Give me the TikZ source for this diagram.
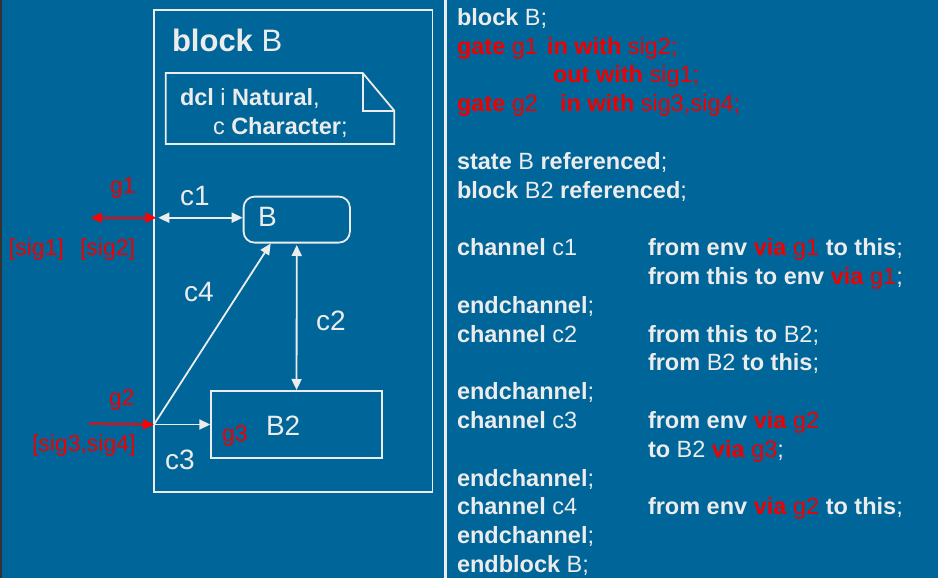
\documentclass[tikz,border=0pt]{standalone}
\usepackage{fontspec}
\setmainfont{Liberation Sans}
\usetikzlibrary{arrows.meta}
\definecolor{bg}{RGB}{0,102,153}
\definecolor{fg}{RGB}{236,236,236}
\definecolor{rd}{RGB}{238,0,0}
\definecolor{ar}{RGB}{255,0,0}
\newcommand{\fsz}[1]{\fontsize{#1}{#1}\selectfont}
\newcommand{\rr}[1]{\textcolor{rd}{#1}}
\newcommand{\kw}[1]{\textbf{#1}}
\begin{document}
\begin{tikzpicture}[x=1pt,y=-1pt,
  >={Triangle[length=11pt,width=10pt]},
  txt/.style={anchor=base west, inner sep=0pt, outer sep=0pt, text=fg, font=\fsz{23.5}},
  biglbl/.style={txt, font=\fsz{28}},
  redlbl/.style={txt, text=rd, font=\fsz{23}},
  wline/.style={draw=fg, line width=1.8pt},
  wbox/.style={wline, inner sep=0pt, anchor=north west},
  warr/.style={fg, line width=1.8pt},
  rarr/.style={ar, line width=2pt}]
\useasboundingbox (0,0) rectangle (938,578);
\fill[bg] (0,0) rectangle (938,578);
\fill[black!80] (0,0) rectangle (2,578);
\draw[fg, line width=2.5pt] (445.5,0) -- (445.5,578);

% block frame
\node[wbox, minimum width=278.2pt, minimum height=481.7pt] (blk) at (153.3,9.3) {};
\node[txt, font=\fsz{31}] (title) at (172,52) {\kw{block} B};

% note
\draw[wline, line join=miter] (165.7,73) -- (362.7,73) -- (394.3,110.7) -- (394.3,144) -- (165.7,144) -- cycle;
\draw[wline] (362.7,73) -- (362.7,110.7) -- (394.3,110.7);
\node[txt] (n1) at (180,105.7) {\kw{dcl} i \kw{Natural},};
\node[txt] (n2) at (213,134) {c \kw{Character};};

% boxes
\node[wbox, rounded corners=11pt, minimum width=106.3pt, minimum height=46pt] (Bst) at (242.7,195.7) {};
\node[wbox, minimum width=170.7pt, minimum height=67pt] (B2) at (210.3,390) {};
\node[biglbl] (Bt) at (258,226.7) {B};
\node[biglbl] (B2t) at (266,435.7) {B2};

% gate points
\coordinate (g1) at (153.3,217.7);
\coordinate (g1o) at (90.7,217.7);
\coordinate (g2) at (154,424.5);
\coordinate (g2o) at (89,423.5);

% connectors
\draw[rarr, <->] (g1o) -- ([xshift=3pt]g1);
\draw[warr, <->] ([xshift=5pt]g1) -- (Bst.west |- g1);
\draw[rarr, ->] (g2o) -- (g2);
\draw[warr, ->] (g2) -- (B2.west |- g2);
\draw[warr, ->] (g2) -- ([xshift=28pt]Bst.south west);
\draw[warr, <->, shorten <=1.5pt] (Bst.south) -- (B2.north);

% labels
\node[biglbl] (c1) at (180,205) {c1};
\node[biglbl] (c4) at (184,301) {c4};
\node[biglbl] (c2) at (316,330.7) {c2};
\node[biglbl] (c3) at (165,469.3) {c3};
\node[redlbl] (g1l) at (110,193) {g1};
\node[redlbl] (s1) at (9,255) {[sig1]};
\node[redlbl] (s2) at (80,255) {[sig2]};
\node[redlbl] (g2l) at (109,405) {g2};
\node[redlbl] (s34) at (32,451.7) {[sig3,sig4]};
\node[redlbl] (g3l) at (222,441.7) {g3};

% code listing
\node[txt] (l0) at (457,25.3) {\kw{block} B;};
\node[txt, text=rd] (l1a) at (457,54.1) {\kw{gate} g1};
\node[txt, text=rd] (l1b) at (547,54.1) {\kw{in with} sig2;};
\node[txt, text=rd] (l2) at (553,82.9) {\kw{out with} sig1;};
\node[txt, text=rd] (l3a) at (457,111.7) {\kw{gate} g2};
\node[txt, text=rd] (l3b) at (560,111.7) {\kw{in with} sig3,sig4;};
\node[txt] (l5) at (457,169.3) {\kw{state} B \kw{referenced};};
\node[txt] (l6) at (457,198.1) {\kw{block} B2 \kw{referenced};};
\node[txt] (l8) at (457,255.7) {\kw{channel} c1};
\node[txt] (l8b) at (648,255.7) {\kw{from env} \rr{\kw{via} g1} \kw{to this};};
\node[txt] (l9b) at (648,284.5) {\kw{from this to env} \rr{\kw{via} g1};};
\node[txt] (l10) at (457,313.3) {\kw{endchannel};};
\node[txt] (l11) at (457,342.1) {\kw{channel} c2};
\node[txt] (l11b) at (648,342.1) {\kw{from this to} B2;};
\node[txt] (l12b) at (648,370.9) {\kw{from} B2 \kw{to this};};
\node[txt] (l13) at (457,399.7) {\kw{endchannel};};
\node[txt] (l14) at (457,428.5) {\kw{channel} c3};
\node[txt] (l14b) at (648,428.5) {\kw{from env} \rr{\kw{via} g2}};
\node[txt] (l15b) at (648,457.3) {\kw{to} B2 \rr{\kw{via} g3};};
\node[txt] (l16) at (457,486.1) {\kw{endchannel};};
\node[txt] (l17) at (457,514.9) {\kw{channel} c4};
\node[txt] (l17b) at (648,514.9) {\kw{from env} \rr{\kw{via} g2} \kw{to this};};
\node[txt] (l18) at (457,543.7) {\kw{endchannel};};
\node[txt] (l19) at (457,572.5) {\kw{endblock} B;};
\end{tikzpicture}
\end{document}
